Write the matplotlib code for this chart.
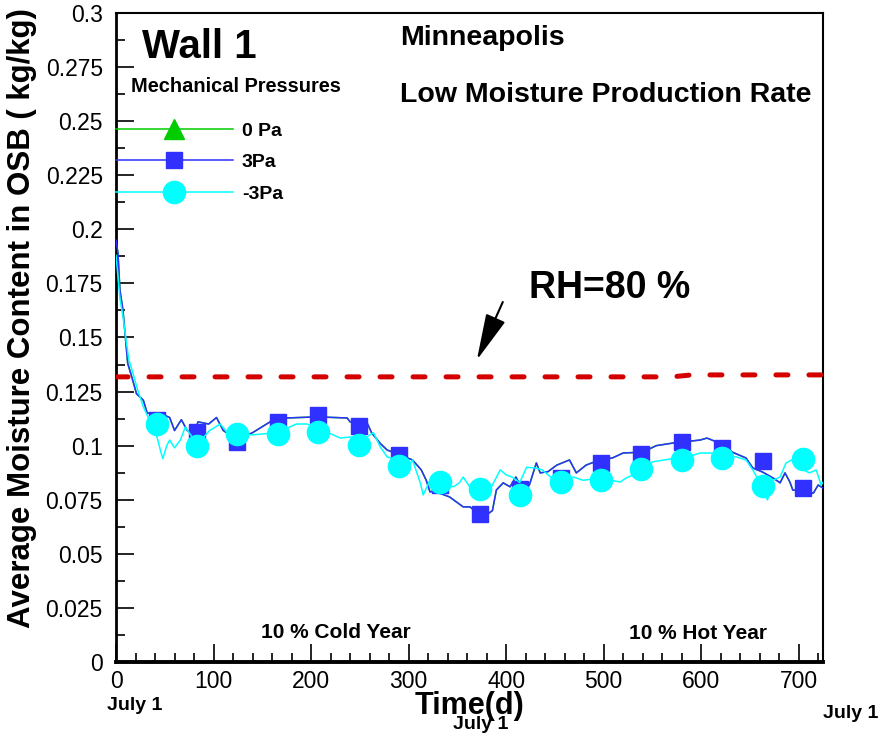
import matplotlib
matplotlib.use('Agg')
import matplotlib.pyplot as plt
from matplotlib.lines import Line2D
from matplotlib.ticker import MultipleLocator, FormatStrFormatter

plt.rcParams['font.family'] = ['Liberation Sans', 'DejaVu Sans']

# 3 Pa simulation (days, kg/kg)
days_3pa = [0, 2, 4, 7, 9, 12, 16, 21, 28, 32, 45, 55, 60, 67, 73, 80, 84, 95, 103, 110,
            120, 130, 140, 158, 175, 206, 237, 240, 257, 262, 271, 278, 291, 304, 313, 318,
            322, 329, 332, 342, 349, 356, 363, 370, 380, 386, 390, 397, 404, 410, 418, 424,
            431, 435, 443, 452, 465, 472, 482, 496, 509, 520, 540, 554, 571, 599, 606, 616,
            632, 646, 653, 663, 674, 681, 686, 691, 694, 705, 715, 720, 725]
mc_3pa = [0.195, 0.189, 0.172, 0.163, 0.153, 0.138, 0.132, 0.124, 0.121, 0.115, 0.115, 0.113,
          0.107, 0.112, 0.107, 0.105, 0.111, 0.110, 0.113, 0.107, 0.104, 0.104, 0.106, 0.111,
          0.1128, 0.1133, 0.1128, 0.111, 0.111, 0.106, 0.101, 0.098, 0.0957, 0.0934, 0.0888,
          0.0841, 0.0786, 0.0795, 0.078, 0.0763, 0.074, 0.0717, 0.0717, 0.069, 0.068, 0.070,
          0.0795, 0.0828, 0.081, 0.0855, 0.079, 0.082, 0.092, 0.0874, 0.088, 0.091, 0.0934,
          0.0874, 0.091, 0.0934, 0.0943, 0.0966, 0.097, 0.100, 0.1012, 0.1026, 0.1035, 0.1017,
          0.097, 0.0943, 0.0897, 0.0878, 0.085, 0.0828, 0.0874, 0.0832, 0.0795, 0.079, 0.078,
          0.0818, 0.0804]

# -3 Pa simulation
days_m3pa = [0, 2, 4, 7, 10, 13, 17, 22, 28, 34, 42, 46, 48, 52, 55, 60, 66, 71, 78, 88, 96,
             107, 114, 125, 140, 165, 185, 196, 216, 230, 240, 257, 264, 271, 278, 288, 298,
             304, 312, 315, 322, 329, 337, 346, 352, 356, 364, 375, 385, 394, 400, 406, 414,
             421, 430, 437, 447, 459, 469, 479, 496, 517, 523, 542, 550, 568, 584, 599, 609,
             625, 636, 646, 653, 660, 668, 674, 681, 687, 693, 700, 711, 718, 723, 725]
mc_m3pa = [0.188, 0.178, 0.168, 0.160, 0.150, 0.140, 0.134, 0.126, 0.118, 0.112, 0.104, 0.097,
           0.094, 0.100, 0.1026, 0.099, 0.1026, 0.1086, 0.104, 0.103, 0.107, 0.110, 0.106,
           0.1054, 0.105, 0.106, 0.110, 0.110, 0.1063, 0.1035, 0.104, 0.104, 0.106, 0.0994,
           0.0948, 0.0934, 0.0888, 0.0934, 0.0828, 0.0772, 0.0841, 0.080, 0.082, 0.081, 0.0828,
           0.0855, 0.080, 0.080, 0.081, 0.0888, 0.0865, 0.0855, 0.083, 0.090, 0.0897, 0.0888,
           0.085, 0.0832, 0.0855, 0.084, 0.085, 0.0832, 0.085, 0.089, 0.0925, 0.0938, 0.0945,
           0.0966, 0.0966, 0.0955, 0.0948, 0.0934, 0.0888, 0.083, 0.0749, 0.0841, 0.0855, 0.092,
           0.0934, 0.090, 0.0874, 0.0888, 0.0818, 0.0830]

# symbols along the curves
mark_days = [42, 83, 124, 166, 207, 249, 290, 332, 373, 414, 456, 497, 538, 580, 621, 663, 704]
mark_3pa = [0.1119, 0.1063, 0.1017, 0.111, 0.1142, 0.109, 0.0957, 0.0818, 0.0685, 0.080,
            0.085, 0.092, 0.0962, 0.1017, 0.099, 0.0929, 0.0804]
mark_m3pa = [0.110, 0.0999, 0.1054, 0.1054, 0.1063, 0.1003, 0.0906, 0.0832, 0.080, 0.0772,
             0.0832, 0.0841, 0.0892, 0.0934, 0.0943, 0.0814, 0.0938]

# moisture content at RH = 80 %
rh80_days = [0, 570, 590, 725]
rh80_mc = [0.1318, 0.1318, 0.1327, 0.1327]

green = '#00cc00'
blue = '#3030ff'
cyan = '#00ffff'
red = '#d40000'

fig = plt.figure(figsize=(8.81, 7.38), dpi=100)
ax = fig.add_axes([0.1317, 0.1030, 0.8025, 0.8794])

# 0 Pa coincides with 3 Pa
ax.plot(days_3pa, mc_3pa, color=green, lw=1.1, zorder=2)
ax.plot(mark_days, mark_3pa, ls='none', marker='^', ms=9, color=green, zorder=2)
ax.plot(days_3pa, mc_3pa, color=blue, lw=1.1, zorder=3)
ax.plot(mark_days, mark_3pa, ls='none', marker='s', ms=12, color=blue, zorder=3)
ax.plot(days_m3pa, mc_m3pa, color=cyan, lw=1.1, zorder=4)
ax.plot(mark_days, mark_m3pa, ls='none', marker='o', ms=16, color=cyan, zorder=4)

ax.plot(rh80_days, rh80_mc, color=red, lw=3.6, dashes=(2.4, 4.2),
        dash_capstyle='round', zorder=5)

ax.set_xlim(0, 725)
ax.set_ylim(0, 0.3)
ax.xaxis.set_major_locator(MultipleLocator(100))
ax.xaxis.set_minor_locator(MultipleLocator(20))
ax.yaxis.set_major_locator(MultipleLocator(0.025))
ax.yaxis.set_minor_locator(MultipleLocator(0.0125))
ax.yaxis.set_major_formatter(FormatStrFormatter('%g'))
ax.tick_params(which='both', direction='in', top=False, right=False, width=1.2, labelsize=16.5)
ax.tick_params(which='major', length=13)
ax.tick_params(which='minor', length=6.5)
ax.tick_params(axis='x', which='major', pad=6)
ax.tick_params(axis='y', which='major', pad=9.5)
for s in ax.spines.values():
    s.set_linewidth(1.5)
ax.spines['bottom'].set_linewidth(2.8)
ax.spines['left'].set_linewidth(2.0)

ax.set_ylabel('Average Moisture Content in OSB ( kg/kg)', fontsize=22.5, fontweight='bold', labelpad=6)
ax.yaxis.label.set_y(0.53)
ax.set_xlabel('Time(d)', fontsize=22, fontweight='bold', labelpad=-2)

ax.text(27, 0.2843, 'Wall 1', fontsize=29, fontweight='bold', va='center')
ax.text(291, 0.2885, 'Minneapolis', fontsize=20.5, fontweight='bold', va='center')
ax.text(291, 0.2622, 'Low Moisture Production Rate', fontsize=20.5, fontweight='bold', va='center')
ax.text(15, 0.2658, 'Mechanical Pressures', fontsize=14.4, fontweight='bold', va='center')
ax.text(423, 0.1728, 'RH=80 %', fontsize=27, fontweight='bold', va='center', ha='left')
ax.annotate('', xy=(370, 0.1396), xytext=(396.6, 0.1664),
            arrowprops=dict(arrowstyle='-|>,head_length=2.9,head_width=0.65', color='black',
                            lw=1.5, shrinkA=0, shrinkB=0, mutation_scale=10))
ax.text(225, 0.0135, '10 % Cold Year', fontsize=15, fontweight='bold', ha='center', va='center')
ax.text(597, 0.013, '10 % Hot Year', fontsize=15, fontweight='bold', ha='center', va='center')
ax.text(-9, -0.0199, 'July 1', fontsize=14, fontweight='bold', ha='left', va='center')
ax.text(374, -0.0287, 'July 1', fontsize=14, fontweight='bold', ha='center', va='center')
ax.text(725, -0.0236, 'July 1', fontsize=14, fontweight='bold', ha='left', va='center')

handles = [Line2D([], [], color=green, lw=1.1, marker='^', ms=14),
           Line2D([], [], color=blue, lw=1.1, marker='s', ms=12),
           Line2D([], [], color=cyan, lw=1.1, marker='o', ms=16)]
ax.legend(handles, ['0 Pa', '3Pa', '-3Pa'], loc='upper left', bbox_to_anchor=(0.0, 0.832),
          frameon=False, numpoints=1, handlelength=6.0, handletextpad=0.47, labelspacing=0.72,
          borderpad=0, borderaxespad=0, prop={'size': 14, 'weight': 'bold'})

fig.savefig('out.png', dpi=100)
